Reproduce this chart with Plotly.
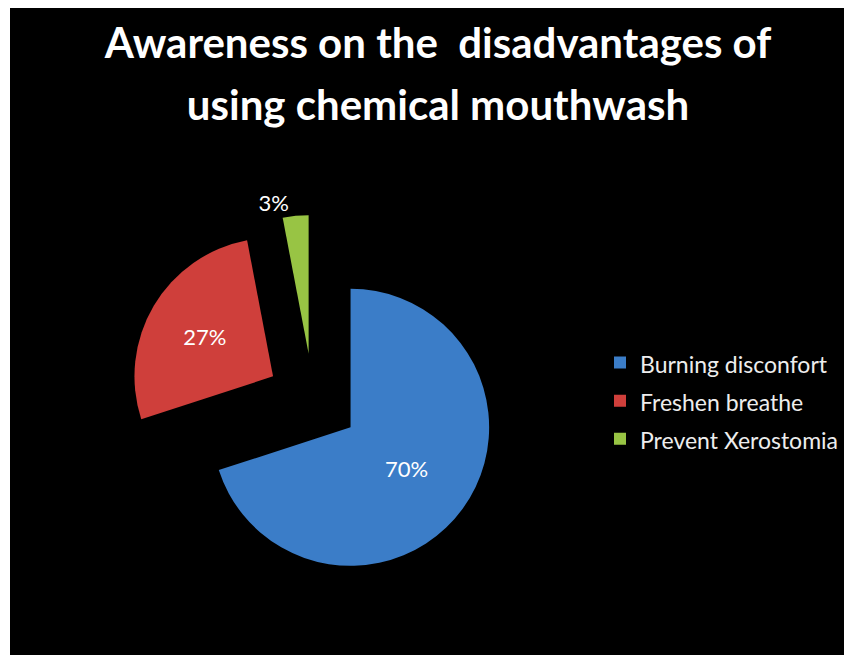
import plotly.graph_objects as go

labels = ["Burning disconfort", "Freshen breathe", "Prevent Xerostomia"]
values = [70, 27, 3]
colors = ["#3B7DC8", "#CF3F3B", "#98C444"]
pulls = [0.335, 0.335, 0.335]
text_positions = ["inside", "inside", "outside"]

FONT = "Lato, Carlito, Open Sans, sans-serif"
title_text = ("<span style='font-size:42px'>Awareness on the \u00a0disadvantages of</span><br>"
              "<span style='font-size:42px'>using chemical mouthwash</span>")

# page body adds an 8px offset; figure sized to fill the remaining window
OFF = 8
W, H = 852 - OFF, 655 - OFF
ML, MT = 2, 0
PW, PH = W - ML, H - MT


def px_x(x):
    return (x - OFF - ML) / PW


def px_y(y):
    return 1 - (y - OFF - MT) / PH


fig = go.Figure()
fig.add_trace(go.Pie(
    labels=[f"<span style='font-size:23px'>{l}</span>" for l in labels],
    values=values,
    sort=False,
    direction="clockwise",
    rotation=0,
    pull=pulls,
    marker=dict(colors=colors, line=dict(width=0)),
    textinfo="percent",
    texttemplate="%{percent:.0%}",
    textposition=text_positions,
    insidetextorientation="horizontal",
    textfont=dict(color="white", size=22, family=FONT),
    domain=dict(x=[px_x(128), px_x(498)], y=[px_y(585), px_y(215)]),
    hoverinfo="label+percent",
))

fig.update_layout(
    width=W, height=H,
    margin=dict(l=ML, r=0, t=MT, b=0, autoexpand=False),
    paper_bgcolor="white",
    shapes=[dict(type="rect", xref="paper", yref="paper", x0=0, x1=1, y0=0, y1=1,
                 fillcolor="black", line=dict(width=0), layer="below")],
    title=dict(text=title_text, x=(438 - OFF) / W, xanchor="center", y=1 - 50 / H, yanchor="top",
               xref="container", yref="container",
               font=dict(size=48, color="white", family=FONT, weight="bold")),
    legend=dict(x=px_x(600), xanchor="left", y=px_y(401), yanchor="middle",
                font=dict(size=27, color="#EDEDED", family=FONT),
                bgcolor="rgba(0,0,0,0)"),
    showlegend=True,
)

fig.write_html("out.html")
